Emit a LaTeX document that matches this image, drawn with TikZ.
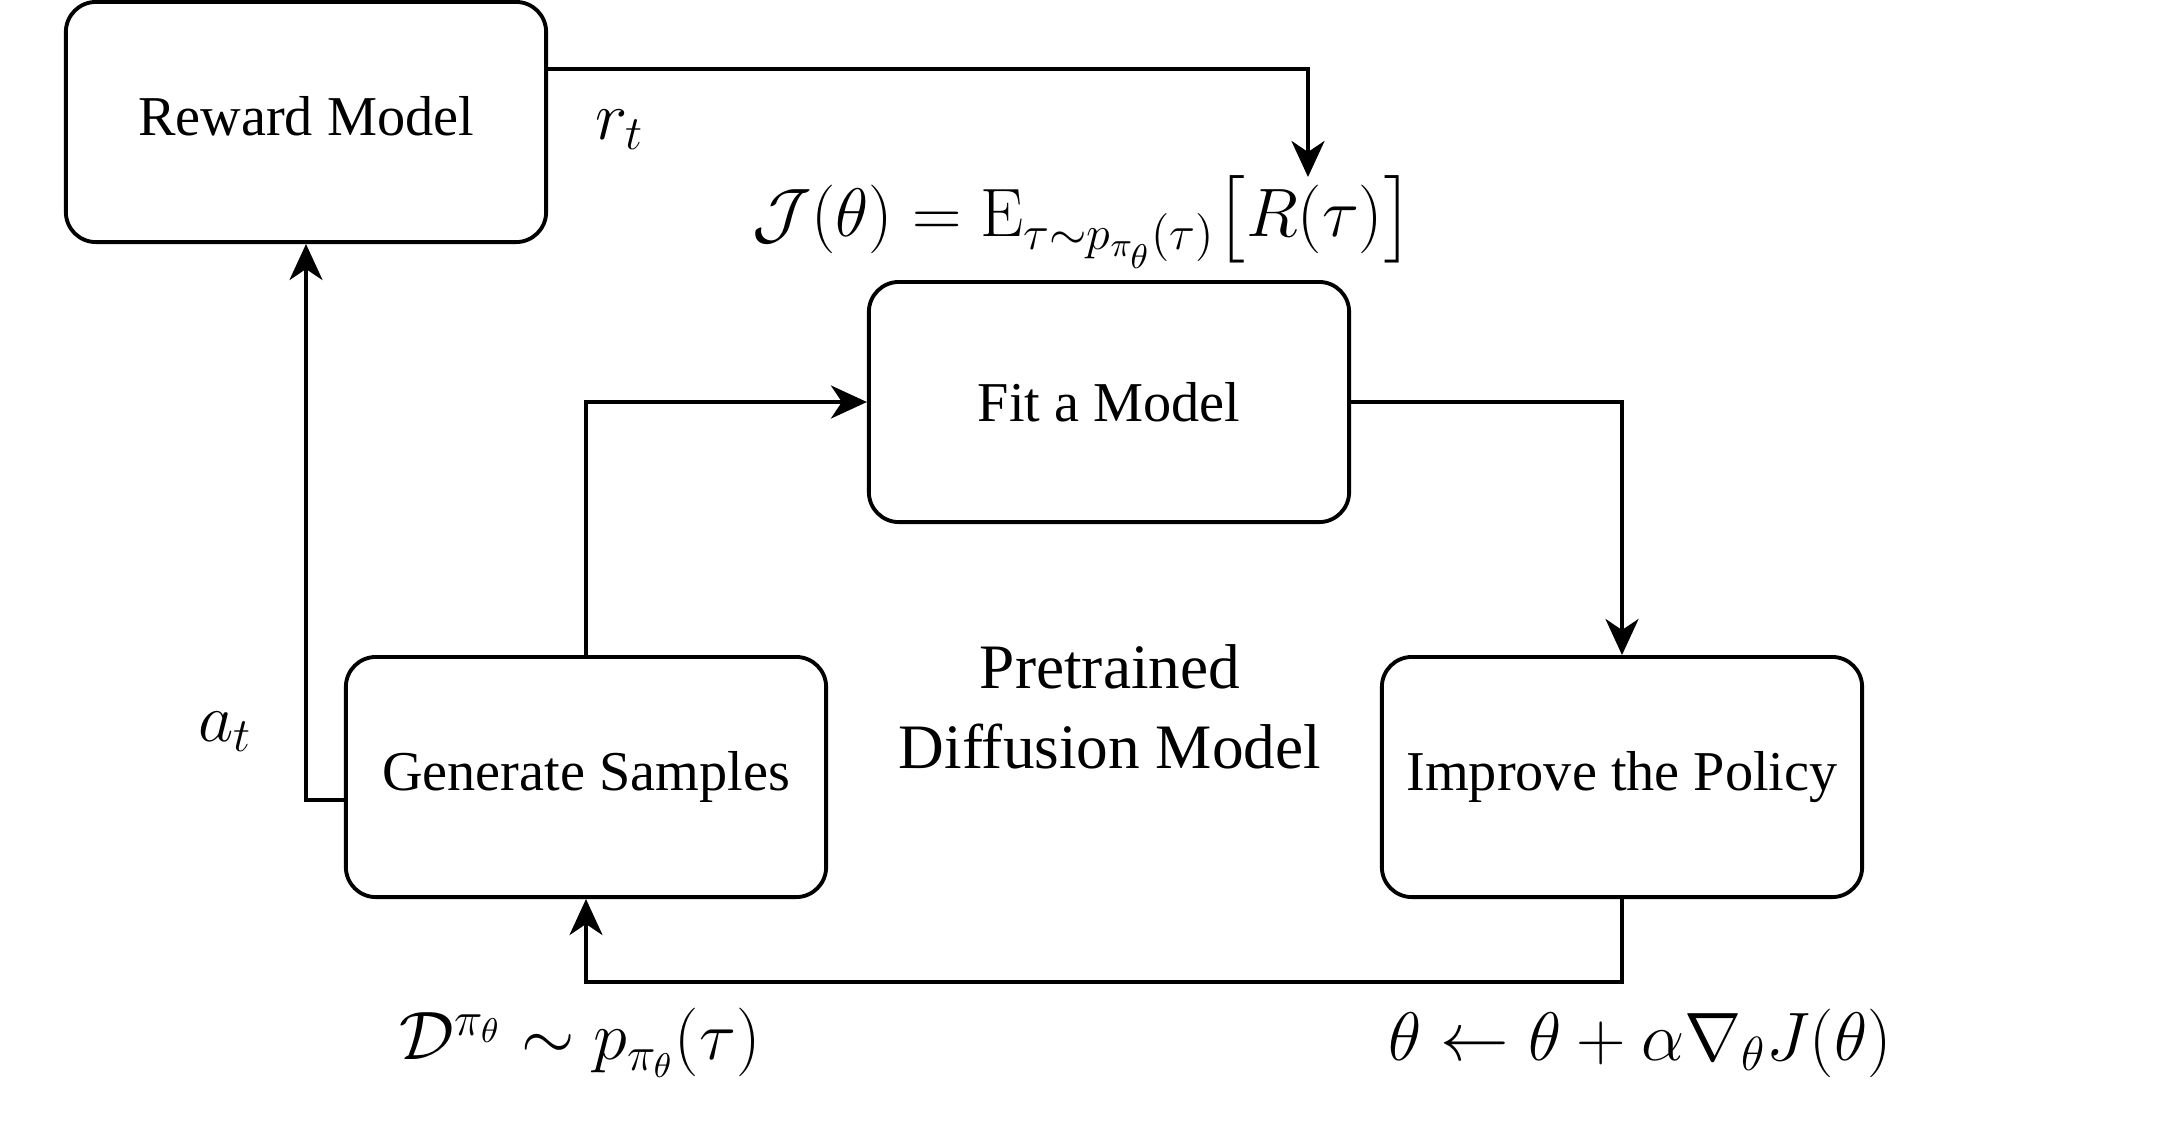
\RequirePackage{fix-cm}
\documentclass[tikz,border=0pt]{standalone}
\usepackage{amsmath}
\usepackage[no-math]{fontspec}
\setmainfont{Liberation Serif}
\usetikzlibrary{arrows.meta}
\begin{document}
\begin{tikzpicture}[x=0.01cm,y=-0.01cm,
  box/.style={draw, line width=1.1pt, rounded corners=0.3cm, minimum width=4.8cm, minimum height=2.4cm, inner sep=0pt, font=\fontsize{16}{19}\selectfont, align=center},
  conn/.style={line width=1pt, -{Stealth[length=3.6mm,width=3.3mm,inset=1.1mm]}},
  mlab/.style={inner sep=0pt, font=\fontsize{19.5}{24}\selectfont},
  tlab/.style={inner sep=0pt, font=\fontsize{18}{22.7}\selectfont, align=center}]
\useasboundingbox (0,0) rectangle (2160,1132);
\node[box] (rm) at (306,122) {\raisebox{0.12cm}{Reward Model}};
\node[box] (fit) at (1109,402) {Fit a Model};
\node[box] (gen) at (586,777) {Generate Samples};
\node[box] (imp) at (1622,777) {Improve the Policy};
\coordinate (jt) at (1308,177);
\draw[conn] ([yshift=0.53cm]rm.east) -| (jt);
\draw[conn] (fit.east) -| (imp.north);
\draw[conn] (gen.north) |- (fit.west);
\draw[conn] ([yshift=-0.23cm]gen.west) -| (rm.south);
\draw[conn] (imp.south) -- ++(0,83) -| (gen.south);
\node[mlab] (rt) at (620,130) {$r_t$};
\node[mlab] (at) at (225,732) {$a_t$};
\node[mlab] (jf) at (1083,222) {$\mathcal{J}(\theta)=\mathrm{E}_{\tau\sim p_{\pi_\theta}(\tau)}\bigl[R(\tau)\bigr]$};
\node[tlab] (ptd) at (1110,707) {Pretrained\\Diffusion Model};
\node[mlab] (dl) at (580,1043) {$\mathcal{D}^{\pi_\theta}\sim p_{\pi_\theta}(\tau)$};
\node[mlab] (tl) at (1640,1043) {$\theta\leftarrow\theta+\alpha\nabla_\theta J(\theta)$};
\end{tikzpicture}
\end{document}
